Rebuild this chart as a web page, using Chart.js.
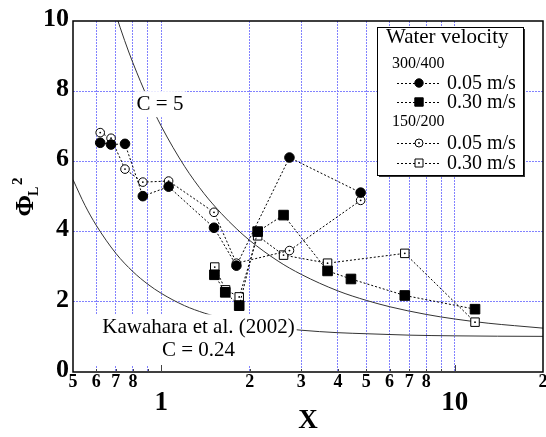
<!DOCTYPE html>
<html lang="en">
<head>
<meta charset="utf-8">
<title>Phi_L^2 vs X</title>
<script src="https://cdn.jsdelivr.net/npm/chart.js@4.4.0/dist/chart.umd.min.js"></script>
<style>
  html, body { margin: 0; padding: 0; background: #fff; }
  #wrap { width: 546px; height: 437px; }
</style>
</head>
<body>
<div id="wrap"><canvas id="chart-0"></canvas></div>
<script>
// 300/400, water 0.05 m/s (filled circles)
const xA = [0.619, 0.674, 0.752, 0.865, 1.059, 1.512, 1.803, 2.734, 4.78];
const yA = [6.53, 6.48, 6.50, 5.01, 5.28, 4.11, 3.03, 6.11, 5.11];
// 300/400, water 0.30 m/s (filled squares)
const xB = [1.517, 1.652, 1.843, 2.13, 2.61, 3.687, 4.43, 6.76, 11.73];
const yB = [2.77, 2.27, 1.89, 4.00, 4.47, 2.88, 2.65, 2.18, 1.79];
// 150/200, water 0.05 m/s (open circles)
const xC = [0.619, 0.674, 0.752, 0.865, 1.059, 1.512, 1.803, 2.734, 4.78];
const yC = [6.82, 6.66, 5.78, 5.41, 5.44, 4.55, 3.10, 3.46, 4.89];
// 150/200, water 0.30 m/s (open squares)
const xD = [1.521, 1.656, 1.843, 2.13, 2.61, 3.687, 6.76, 11.73];
const yD = [2.99, 2.34, 2.14, 3.88, 3.33, 3.10, 3.38, 1.42];

// the two correlation curves
const curve5X = [0.70, 0.75, 0.8, 0.9, 1.0, 1.2, 1.4, 1.6, 1.8, 2.0, 2.5, 3, 4, 5, 6, 8, 10, 13, 16, 20];
const curve5Y = [10.18, 9.44, 8.81, 7.79, 7.0, 5.86, 5.08, 4.52, 4.09, 3.75, 3.16, 2.78, 2.31, 2.04, 1.86, 1.64, 1.51, 1.39, 1.32, 1.25];
const curveKX = [0.5, 0.55, 0.6, 0.7, 0.8, 0.9, 1.0, 1.2, 1.4, 1.6, 2.0, 2.5, 3, 4, 5, 7, 10, 14, 20];
const curveKY = [5.48, 4.74, 4.18, 3.38, 2.86, 2.50, 2.24, 1.89, 1.68, 1.54, 1.37, 1.26, 1.19, 1.12, 1.09, 1.05, 1.03, 1.02, 1.015];

// axis ticks
const xTicks = [0.5, 0.6, 0.7, 0.8, 0.9, 1, 2, 3, 4, 5, 6, 7, 8, 9, 10, 20];
const xTickLabels = ['5', '6', '7', '8', '', '', '2', '3', '4', '5', '6', '7', '8', '', '', '2'];
const decadeTicks = [1, 10];
const decadeLabels = ['1', '10'];
const yTicks = [0, 2, 4, 6, 8, 10];

const serif = '"Liberation Serif", "Times New Roman", serif';
const gridColor = '#8282ff';

function pts(xs, ys) {
  return xs.map((x, i) => ({x: x, y: ys[i]}));
}

// text notes on the plot (data coords of the text anchor)
const notes = [
  {lines: ['C = 5'], x: 0.99, y: 7.46, pad: {l: 2, r: 2, t: 19, b: 7}},
  {lines: ['Kawahara et al. (2002)', 'C = 0.24'], x: 1.339, y: 1.10, pad: {l: 9, r: 2, t: 19, b: 9}}
];

function drawMarker(ctx, kind, x, y, s) {
  ctx.save();
  ctx.lineWidth = 1;
  ctx.strokeStyle = '#000';
  ctx.fillStyle = (kind === 'fcircle' || kind === 'fsquare') ? '#000' : '#fff';
  ctx.beginPath();
  if (kind === 'fcircle' || kind === 'ocircle') {
    ctx.arc(x, y, s, 0, Math.PI * 2);
  } else {
    ctx.rect(x - s, y - s, 2 * s, 2 * s);
  }
  ctx.fill();
  ctx.stroke();
  if (kind === 'ocircle' || kind === 'osquare') {
    ctx.fillStyle = '#000';
    ctx.beginPath();
    ctx.arc(x, y, 0.9, 0, Math.PI * 2);
    ctx.fill();
  }
  ctx.restore();
}

const extras = {
  id: 'extras',
  afterDatasetDraw(chart, args) {
    const ctx = chart.ctx;
    const xs = chart.scales.x, ys = chart.scales.y;
    if (args.index === 4) {
      // white boxes behind the notes hide the curves and the grid
      notes.forEach(n => {
        const cx = xs.getPixelForValue(n.x);
        const by = ys.getPixelForValue(n.y);
        ctx.save();
        ctx.font = '21px ' + serif;
        const w = Math.max.apply(null, n.lines.map(t => ctx.measureText(t).width));
        const lh = 23;
        ctx.fillStyle = '#fff';
        ctx.fillRect(cx - w / 2 - n.pad.l, by - n.pad.t, w + n.pad.l + n.pad.r, (n.lines.length - 1) * lh + n.pad.t + n.pad.b);
        ctx.fillStyle = '#000';
        ctx.textAlign = 'center';
        ctx.textBaseline = 'alphabetic';
        n.lines.forEach((t, i) => ctx.fillText(t, cx, by + i * lh));
        ctx.restore();
      });
    }
    if (args.index === 2 || args.index === 3) {
      const meta = chart.getDatasetMeta(args.index);
      ctx.save();
      ctx.fillStyle = '#000';
      meta.data.forEach(p => {
        ctx.beginPath();
        ctx.arc(p.x, p.y, 0.9, 0, Math.PI * 2);
        ctx.fill();
      });
      ctx.restore();
    }
  },
  afterDraw(chart) {
    const ctx = chart.ctx;
    const a = chart.chartArea;
    const xs = chart.scales.x;

    // frame
    ctx.save();
    ctx.strokeStyle = '#000';
    ctx.lineWidth = 1.5;
    ctx.strokeRect(a.left, a.top, a.right - a.left, a.bottom - a.top);

    // inner tick marks on the bottom axis
    ctx.strokeStyle = '#444';
    ctx.lineWidth = 1;
    xTicks.forEach(v => {
      if (v === 0.5 || v === 20) return;
      const px = Math.round(xs.getPixelForValue(v)) + 0.5;
      const len = decadeTicks.includes(v) ? 7 : 3;
      ctx.beginPath();
      ctx.moveTo(px, a.bottom);
      ctx.lineTo(px, a.bottom - len);
      ctx.stroke();
    });

    // decade labels
    ctx.fillStyle = '#000';
    ctx.font = 'bold 27px ' + serif;
    ctx.textAlign = 'center';
    ctx.textBaseline = 'alphabetic';
    decadeTicks.forEach((v, i) => ctx.fillText(decadeLabels[i], xs.getPixelForValue(v), a.bottom + 38));

    // y title: Phi_L^2
    const cy = (a.top + a.bottom) / 2;
    ctx.translate(a.left - 40, cy + 20);
    ctx.rotate(-Math.PI / 2);
    ctx.textAlign = 'left';
    ctx.font = 'bold 26px ' + serif;
    ctx.fillText('Φ', 0, 0);
    const pw = ctx.measureText('Φ').width;
    ctx.font = 'bold 14px ' + serif;
    ctx.fillText('L', pw - 1, 5);
    ctx.font = 'bold 15px ' + serif;
    ctx.fillText('2', pw + 10, -11);
    ctx.restore();

    // legend
    const L = a.right - 166, T = a.top + 6, W = 146, H = 148;
    ctx.save();
    ctx.fillStyle = '#333';
    ctx.fillRect(L + 2, T + 2, W, H);
    ctx.fillStyle = '#fff';
    ctx.fillRect(L, T, W, H);
    ctx.strokeStyle = '#000';
    ctx.lineWidth = 1;
    ctx.strokeRect(L + 0.5, T + 0.5, W, H);
    ctx.fillStyle = '#000';
    ctx.textBaseline = 'alphabetic';
    ctx.font = '21px ' + serif;
    ctx.fillText('Water velocity', L + 9, T + 16);
    ctx.font = '16px ' + serif;
    ctx.fillText('300/400', L + 15, T + 41);
    ctx.fillText('150/200', L + 15, T + 99);
    const rows = [
      {kind: 'fcircle', text: '0.05 m/s', y: T + 56, s: 4.2},
      {kind: 'fsquare', text: '0.30 m/s', y: T + 75, s: 4.2},
      {kind: 'ocircle', text: '0.05 m/s', y: T + 116, s: 4},
      {kind: 'osquare', text: '0.30 m/s', y: T + 136, s: 4}
    ];
    rows.forEach(r => {
      ctx.save();
      ctx.strokeStyle = '#000';
      ctx.lineWidth = 1;
      ctx.setLineDash([2, 2]);
      ctx.beginPath();
      ctx.moveTo(L + 20, r.y + 0.5);
      ctx.lineTo(L + 62, r.y + 0.5);
      ctx.stroke();
      ctx.restore();
      drawMarker(ctx, r.kind, L + 42, r.y, r.s);
      ctx.font = '20px ' + serif;
      ctx.fillStyle = '#000';
      ctx.fillText(r.text, L + 70, r.y + 6);
    });
    ctx.restore();
  }
};

const dotted = {borderColor: '#000', borderWidth: 1, borderDash: [2, 2], showLine: true, fill: false, pointBorderColor: '#000', pointBorderWidth: 1};

const chart = new Chart('chart-0', {
  type: 'line',
  data: {
    datasets: [
      Object.assign({label: '300/400 0.05 m/s', data: pts(xA, yA), pointStyle: 'circle', pointRadius: 4.8, pointBackgroundColor: '#000'}, dotted),
      Object.assign({label: '300/400 0.30 m/s', data: pts(xB, yB), pointStyle: 'rect', pointRadius: 6.8, pointBackgroundColor: '#000'}, dotted),
      Object.assign({label: '150/200 0.05 m/s', data: pts(xC, yC), pointStyle: 'circle', pointRadius: 4.3, pointBackgroundColor: '#fff'}, dotted),
      Object.assign({label: '150/200 0.30 m/s', data: pts(xD, yD), pointStyle: 'rect', pointRadius: 6, pointBackgroundColor: '#fff'}, dotted),
      {label: 'C = 5', data: pts(curve5X, curve5Y), borderColor: '#333', borderWidth: 1, pointRadius: 0, cubicInterpolationMode: 'monotone', fill: false},
      {label: 'C = 0.24', data: pts(curveKX, curveKY), borderColor: '#333', borderWidth: 1, pointRadius: 0, cubicInterpolationMode: 'monotone', fill: false}
    ]
  },
  options: {
    responsive: true,
    maintainAspectRatio: false,
    animation: false,
    events: [],
    layout: {autoPadding: false, padding: {top: 21, right: 3, left: 0, bottom: 0}},
    plugins: {
      legend: {display: false},
      tooltip: {enabled: false}
    },
    scales: {
      x: {
        type: 'logarithmic',
        min: 0.5,
        max: 20,
        afterBuildTicks: s => { s.ticks = xTicks.map(v => ({value: v})); },
        afterFit: s => { s.height = 65; s.paddingLeft = 0; s.paddingRight = 0; },
        ticks: {
          autoSkip: false,
          maxRotation: 0,
          padding: 0,
          color: '#000',
          font: {family: serif, size: 18, weight: 'bold'},
          callback: (v, i) => xTickLabels[i]
        },
        grid: {
          drawTicks: false,
          lineWidth: 1,
          color: c => (c.tick && (c.tick.value === 0.5 || c.tick.value === 20)) ? 'rgba(0,0,0,0)' : gridColor
        },
        border: {display: false, dash: [2, 1]},
        title: {display: true, text: 'X', color: '#000', padding: 0, font: {family: serif, size: 27, weight: 'bold'}}
      },
      y: {
        min: 0,
        max: 10,
        afterBuildTicks: s => { s.ticks = yTicks.map(v => ({value: v})); },
        afterFit: s => { s.width = 73; },
        ticks: {
          padding: 4,
          labelOffset: -2,
          color: '#000',
          font: {family: serif, size: 26, weight: 'bold'}
        },
        grid: {
          drawTicks: false,
          lineWidth: 1,
          color: c => (c.tick && (c.tick.value === 0 || c.tick.value === 10)) ? 'rgba(0,0,0,0)' : gridColor
        },
        border: {display: false, dash: [2, 1]}
      }
    }
  },
  plugins: [extras]
});
</script>
</body>
</html>
